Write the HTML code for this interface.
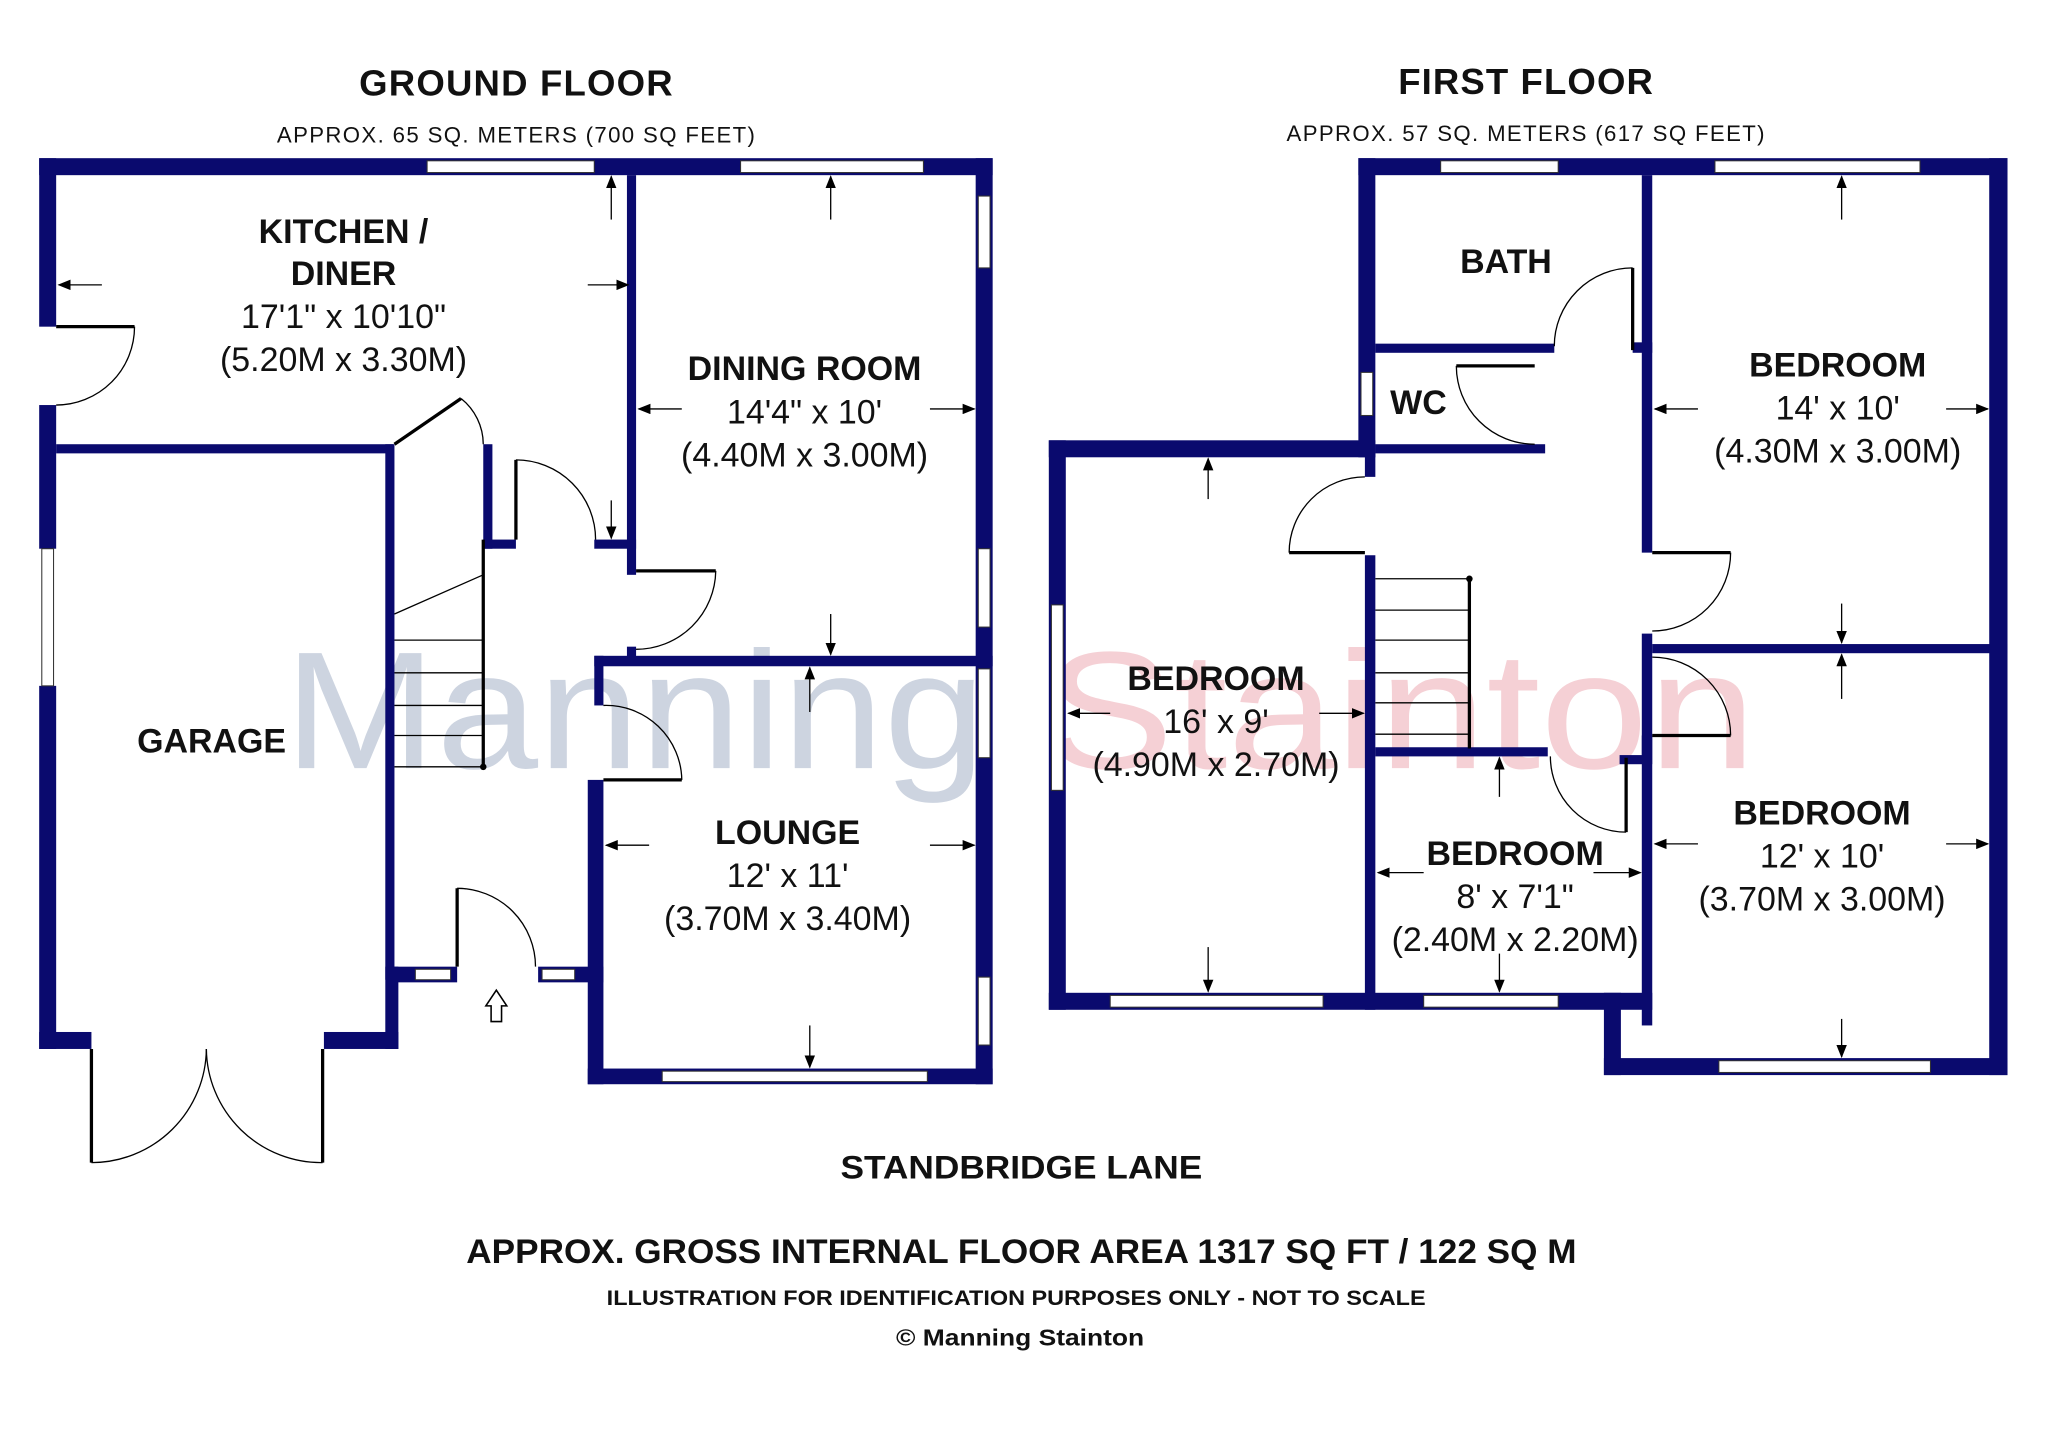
<!DOCTYPE html>
<html><head><meta charset="utf-8"><style>
html,body{margin:0;padding:0;background:#fff;}
svg{display:block}
text{font-family:"Liberation Sans",Arial,sans-serif;fill:#111;text-anchor:middle}
.b{font-weight:bold}
</style></head><body>
<svg width="2048" height="1454" viewBox="0 0 1568 1113" xmlns="http://www.w3.org/2000/svg">
<defs>
<marker id="ah" markerWidth="10" markerHeight="8" refX="9" refY="4" orient="auto" markerUnits="userSpaceOnUse"><path d="M0,0 L10,4 L0,8 Z" fill="#000"/></marker>
</defs>
<rect width="1568" height="1113" fill="#fff"/>
<!-- watermark -->
<text x="486" y="588" textLength="537" lengthAdjust="spacingAndGlyphs" style="font-size:128px;fill:#cdd4e0">Manning</text>
<text x="1072" y="588" textLength="545" lengthAdjust="spacingAndGlyphs" style="font-size:128px;fill:#f5d0d5">Stainton</text>

<g fill="#0a0a6e">
<rect x="30" y="121" width="730" height="13"/>
<rect x="30" y="121" width="13" height="129"/>
<rect x="30" y="310" width="13" height="110"/>
<rect x="30" y="525" width="13" height="278"/>
<rect x="43" y="340" width="258" height="7"/>
<rect x="295" y="340" width="7" height="410"/>
<rect x="30" y="790" width="40" height="13"/>
<rect x="248" y="790" width="57" height="13"/>
<rect x="295" y="740" width="10" height="63"/>
<rect x="300" y="740" width="50" height="12"/>
<rect x="412" y="740" width="50" height="12"/>
<rect x="480" y="134" width="7" height="306"/>
<rect x="370" y="340" width="7" height="80"/>
<rect x="370" y="413" width="25" height="7"/>
<rect x="455" y="413" width="32" height="7"/>
<rect x="480" y="495" width="7" height="10"/>
<rect x="747" y="121" width="13" height="709"/>
<rect x="455" y="502" width="305" height="8"/>
<rect x="455" y="502" width="7" height="38"/>
<rect x="450" y="597" width="12" height="233"/>
<rect x="450" y="818" width="310" height="12"/>
<rect x="1040" y="121" width="497" height="13"/>
<rect x="1040" y="121" width="13" height="229"/>
<rect x="1053" y="263" width="137" height="7"/>
<rect x="1053" y="340" width="130" height="7"/>
<rect x="1257" y="134" width="8" height="134"/>
<rect x="1250" y="262" width="15" height="8"/>
<rect x="1257" y="268" width="8" height="155"/>
<rect x="1257" y="485" width="8" height="93"/>
<rect x="1523" y="121" width="14" height="702"/>
<rect x="1265" y="493" width="272" height="7"/>
<rect x="803" y="337" width="250" height="13"/>
<rect x="803" y="337" width="13" height="436"/>
<rect x="803" y="760" width="462" height="13"/>
<rect x="1045" y="347" width="8" height="18"/>
<rect x="1045" y="425" width="8" height="348"/>
<rect x="1053" y="572" width="132" height="7"/>
<rect x="1257" y="563" width="8" height="222"/>
<rect x="1240" y="578" width="25" height="7"/>
<rect x="1228" y="760" width="13" height="63"/>
<rect x="1228" y="810" width="309" height="13"/>
</g>
<g fill="#fff" stroke="#333" stroke-width="0.8">
<rect x="327" y="123" width="128" height="9"/><rect x="567" y="123" width="140" height="9"/>
<rect x="32" y="420" width="9" height="105"/>
<rect x="749" y="150" width="9" height="55"/><rect x="749" y="420" width="9" height="60"/>
<rect x="749" y="512" width="9" height="68"/><rect x="749" y="748" width="9" height="52"/>
<rect x="318" y="742" width="27" height="8"/><rect x="415" y="742" width="25" height="8"/>
<rect x="507" y="820" width="203" height="8"/>
<rect x="1103" y="123" width="90" height="9"/><rect x="1313" y="123" width="157" height="9"/>
<rect x="1042" y="285" width="9" height="33"/>
<rect x="805" y="463" width="9" height="142"/>
<rect x="850" y="762" width="163" height="9"/><rect x="1090" y="762" width="103" height="9"/>
<rect x="1316" y="812" width="162" height="9"/>
</g>
<g fill="none" stroke="#000" stroke-width="2.5">
<line x1="43" y1="250" x2="103" y2="250"/>
<line x1="302" y1="340" x2="353" y2="305"/>
<line x1="395" y1="352" x2="395" y2="413"/>
<line x1="487" y1="437" x2="548" y2="437"/>
<line x1="462" y1="597" x2="522" y2="597"/>
<line x1="350" y1="680" x2="350" y2="740"/>
<line x1="70" y1="803" x2="70" y2="890"/>
<line x1="247" y1="803" x2="247" y2="890"/>
<line x1="1250" y1="205" x2="1250" y2="268"/>
<line x1="1115" y1="280" x2="1175" y2="280"/>
<line x1="987" y1="423" x2="1045" y2="423"/>
<line x1="1265" y1="423" x2="1325" y2="423"/>
<line x1="1265" y1="563" x2="1325" y2="563"/>
<line x1="1245" y1="580" x2="1245" y2="637"/>
<line x1="370" y1="413" x2="370" y2="587"/>
<line x1="1125" y1="443" x2="1125" y2="573"/>
</g>
<g fill="none" stroke="#000" stroke-width="1">
<path d="M103,250 A60,60 0 0 1 43,310"/>
<path d="M353,305 A45,45 0 0 1 370,340"/>
<path d="M395,352 A61,61 0 0 1 456,413"/>
<path d="M548,437 A61,61 0 0 1 487,497"/>
<path d="M522,597 A58,58 0 0 0 462,540"/>
<path d="M350,680 A60,60 0 0 1 410,740"/>
<path d="M70,890 A88,88 0 0 0 158,803"/>
<path d="M247,890 A88,88 0 0 1 158,803"/>
<path d="M1250,205 A60,60 0 0 0 1190,265"/>
<path d="M1115,280 A60,60 0 0 0 1175,340"/>
<path d="M987,423 A58,58 0 0 1 1045,365"/>
<path d="M1325,423 A60,60 0 0 1 1265,483"/>
<path d="M1325,563 A60,60 0 0 0 1265,503"/>
<path d="M1245,637 A58,58 0 0 1 1187,579"/>
<path d="M302,470 L370,440 M302,490 H370 M302,515 H370 M302,540 H370 M302,563 H370 M302,587 H370"/>
<path d="M1053,443 H1125 M1053,467 H1125 M1053,490 H1125 M1053,515 H1125 M1053,538 H1125 M1053,562 H1125"/>
<path d="M372,770 L380,758 L388,770 L384,770 L384,782 L376,782 L376,770 Z" stroke-width="1.2"/>
</g>
<circle cx="370" cy="587" r="2.5"/><circle cx="1125" cy="443" r="2.5"/>
<g stroke="#000" stroke-width="1" marker-end="url(#ah)">
<line x1="78" y1="218" x2="45" y2="218"/><line x1="450" y1="218" x2="481" y2="218"/>
<line x1="468" y1="168" x2="468" y2="135"/><line x1="468" y1="383" x2="468" y2="412"/>
<line x1="522" y1="313" x2="489" y2="313"/><line x1="712" y1="313" x2="746" y2="313"/>
<line x1="636" y1="168" x2="636" y2="135"/><line x1="636" y1="470" x2="636" y2="501"/>
<line x1="620" y1="545" x2="620" y2="511"/><line x1="620" y1="785" x2="620" y2="817"/>
<line x1="497" y1="647" x2="464" y2="647"/><line x1="712" y1="647" x2="746" y2="647"/>
<line x1="925" y1="382" x2="925" y2="351"/><line x1="925" y1="725" x2="925" y2="759"/>
<line x1="850" y1="546" x2="818" y2="546"/><line x1="1010" y1="546" x2="1044" y2="546"/>
<line x1="1410" y1="168" x2="1410" y2="135"/><line x1="1410" y1="462" x2="1410" y2="492"/>
<line x1="1300" y1="313" x2="1267" y2="313"/><line x1="1490" y1="313" x2="1522" y2="313"/>
<line x1="1410" y1="535" x2="1410" y2="501"/><line x1="1410" y1="780" x2="1410" y2="809"/>
<line x1="1300" y1="646" x2="1267" y2="646"/><line x1="1490" y1="646" x2="1522" y2="646"/>
<line x1="1148" y1="610" x2="1148" y2="580"/><line x1="1148" y1="730" x2="1148" y2="759"/>
<line x1="1090" y1="668" x2="1055" y2="668"/><line x1="1220" y1="668" x2="1256" y2="668"/>
</g>
<g lengthAdjust="spacingAndGlyphs">
<text class="b" x="395" y="73" textLength="240" style="font-size:28px">GROUND FLOOR</text>
<text x="395" y="109" textLength="366" style="font-size:17px">APPROX. 65 SQ. METERS (700 SQ FEET)</text>
<text class="b" x="1168" y="72" textLength="195" style="font-size:28px">FIRST FLOOR</text>
<text x="1168" y="108" textLength="366" style="font-size:17px">APPROX. 57 SQ. METERS (617 SQ FEET)</text>
</g>
<g style="font-size:26px">
<text class="b" x="263" y="186">KITCHEN /</text><text class="b" x="263" y="218">DINER</text>
<text x="263" y="251">17'1" x 10'10"</text><text x="263" y="284">(5.20M x 3.30M)</text>
<text class="b" x="616" y="291">DINING ROOM</text><text x="616" y="324">14'4" x 10'</text><text x="616" y="357">(4.40M x 3.00M)</text>
<text class="b" x="162" y="576">GARAGE</text>
<text class="b" x="603" y="646">LOUNGE</text><text x="603" y="679">12' x 11'</text><text x="603" y="712">(3.70M x 3.40M)</text>
<text class="b" x="1153" y="209">BATH</text>
<text class="b" x="1086" y="317">WC</text>
<text class="b" x="1407" y="288">BEDROOM</text><text x="1407" y="321">14' x 10'</text><text x="1407" y="354">(4.30M x 3.00M)</text>
<text class="b" x="931" y="528">BEDROOM</text><text x="931" y="561">16' x 9'</text><text x="931" y="594">(4.90M x 2.70M)</text>
<text class="b" x="1395" y="631">BEDROOM</text><text x="1395" y="664">12' x 10'</text><text x="1395" y="697">(3.70M x 3.00M)</text>
<text class="b" x="1160" y="662">BEDROOM</text><text x="1160" y="695">8' x 7'1"</text><text x="1160" y="728">(2.40M x 2.20M)</text>
</g>
<text class="b" x="782" y="902" textLength="277" lengthAdjust="spacingAndGlyphs" style="font-size:25px">STANDBRIDGE LANE</text>
<text class="b" x="782" y="967" textLength="850" lengthAdjust="spacingAndGlyphs" style="font-size:26px">APPROX. GROSS INTERNAL FLOOR AREA 1317 SQ FT / 122 SQ M</text>
<text class="b" x="778" y="999" textLength="627" lengthAdjust="spacingAndGlyphs" style="font-size:16px">ILLUSTRATION FOR IDENTIFICATION PURPOSES ONLY - NOT TO SCALE</text>
<text class="b" x="781" y="1030" textLength="190" lengthAdjust="spacingAndGlyphs" style="font-size:18px">© Manning Stainton</text>
</svg>
</body></html>
